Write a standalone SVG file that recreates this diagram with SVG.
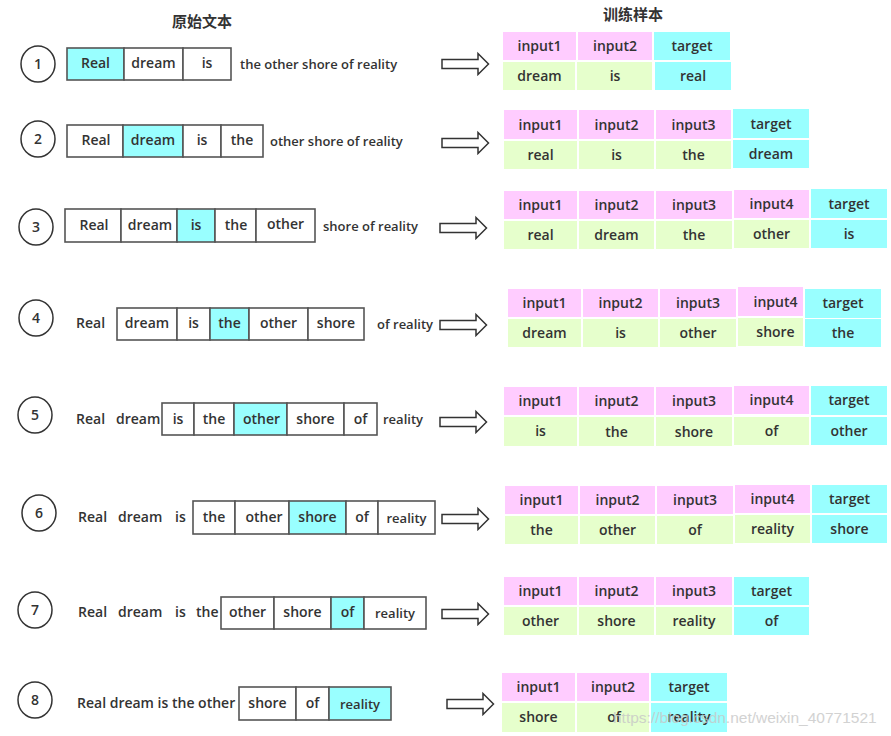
<svg xmlns="http://www.w3.org/2000/svg" xmlns:xlink="http://www.w3.org/1999/xlink" width="891" height="736" viewBox="0 0 891 736">
<style>
text{font-family:"Open Sans","Noto Sans","Noto Sans CJK SC",sans-serif;font-weight:600;fill:#333;font-size:14px}
.t{text-anchor:middle}
.s{font-size:13px}
.title{font-family:"Noto Sans CJK SC","Noto Sans CJK JP",sans-serif;font-weight:700;font-size:15px;text-anchor:middle}
.b{fill:#fff;stroke:#555;stroke-width:1.6}
.bc{fill:#99ffff;stroke:#555;stroke-width:1.6}
.num{fill:#fff;stroke:#333;stroke-width:1.5}
.p{fill:#ffccff}
.g{fill:#e6ffcc}
.c{fill:#99ffff}
.arr{fill:#fff;stroke:#333;stroke-width:1.5}
.wm{font-family:"Liberation Sans",sans-serif;font-weight:400;font-size:15.5px;fill:#c8c8c8;opacity:0.8}
</style>
<defs>
<path id="arrow" class="arr" d="M0,-4.5 H36 V-10.5 L46.5,0 L36,10.5 V4.5 H0 Z"/>
</defs>
<text class="title" x="202" y="27">原始文本</text>
<text class="title" x="633" y="20">训练样本</text>

<g id="connectors">
<use xlink:href="#arrow" x="442" y="64"/>
<use xlink:href="#arrow" x="442" y="143"/>
<use xlink:href="#arrow" x="440" y="228"/>
<use xlink:href="#arrow" x="440" y="325"/>
<use xlink:href="#arrow" x="440" y="422"/>
<use xlink:href="#arrow" x="442" y="519"/>
<use xlink:href="#arrow" x="442" y="614"/>
<use xlink:href="#arrow" x="447" y="704"/>
</g>

<!-- Row 1 -->
<g id="row1">
<ellipse class="num" cx="38" cy="64" rx="17" ry="18"/><text class="t" x="38" y="69">1</text>
<rect class="bc" x="67" y="48" width="57" height="32"/><text class="t" x="95.5" y="68">Real</text>
<rect class="b" x="124" y="48" width="59" height="32"/><text class="t" x="153.5" y="68">dream</text>
<rect class="b" x="183" y="48" width="48" height="32"/><text class="t" x="207" y="68">is</text>
<text class="s" x="240" y="69">the other shore of reality</text>
</g>
<g id="sample1">
<rect class="p" x="503" y="32" width="73" height="28"/><text class="t" x="539.5" y="51">input1</text>
<rect class="p" x="578" y="32" width="74" height="28"/><text class="t" x="615" y="51">input2</text>
<rect class="c" x="654" y="32" width="76" height="28"/><text class="t" x="692" y="51">target</text>
<rect class="g" x="503" y="62" width="72" height="28"/><text class="t" x="539.5" y="81">dream</text>
<rect class="g" x="577" y="62" width="75" height="28"/><text class="t" x="615" y="81">is</text>
<rect class="c" x="655" y="62" width="76" height="28"/><text class="t" x="693" y="81">real</text>
</g>

<!-- Row 2 -->
<g id="row2">
<ellipse class="num" cx="38" cy="139" rx="17" ry="18"/><text class="t" x="38" y="144">2</text>
<rect class="b" x="67" y="125" width="56" height="32"/><text class="t" x="96" y="145">Real</text>
<rect class="bc" x="123" y="125" width="60" height="32"/><text class="t" x="153" y="145">dream</text>
<rect class="b" x="183" y="125" width="38" height="32"/><text class="t" x="202" y="145">is</text>
<rect class="b" x="221" y="125" width="42" height="32"/><text class="t" x="242" y="145">the</text>
<text class="s" x="270" y="146">other shore of reality</text>
</g>
<g id="sample2">
<rect class="p" x="504" y="110" width="73" height="29"/><text class="t" x="540.5" y="130">input1</text>
<rect class="p" x="579" y="110" width="75" height="29"/><text class="t" x="616.5" y="130">input2</text>
<rect class="p" x="656" y="110" width="75" height="29"/><text class="t" x="693.5" y="130">input3</text>
<rect class="c" x="733" y="109" width="76" height="29"/><text class="t" x="771" y="129">target</text>
<rect class="g" x="504" y="141" width="73" height="28"/><text class="t" x="540.5" y="160">real</text>
<rect class="g" x="579" y="141" width="75" height="28"/><text class="t" x="616.5" y="160">is</text>
<rect class="g" x="656" y="141" width="75" height="28"/><text class="t" x="693.5" y="160">the</text>
<rect class="c" x="733" y="140" width="76" height="28"/><text class="t" x="771" y="159">dream</text>
</g>

<!-- Row 3 -->
<g id="row3">
<ellipse class="num" cx="36" cy="227" rx="17" ry="18"/><text class="t" x="36" y="232">3</text>
<rect class="b" x="65" y="209" width="56" height="33"/><text class="t" x="94" y="230">Real</text>
<rect class="b" x="121" y="209" width="56" height="33"/><text class="t" x="150" y="230">dream</text>
<rect class="bc" x="177" y="209" width="38" height="33"/><text class="t" x="196" y="230">is</text>
<rect class="b" x="215" y="209" width="41" height="33"/><text class="t" x="236" y="230">the</text>
<rect class="b" x="256" y="209" width="59" height="33"/><text class="t" x="285.5" y="229">other</text>
<text class="s" x="323" y="231">shore of reality</text>
</g>
<g id="sample3">
<rect class="p" x="504" y="191" width="73" height="28"/><text class="t" x="540.5" y="210">input1</text>
<rect class="p" x="579" y="191" width="75" height="28"/><text class="t" x="616.5" y="210">input2</text>
<rect class="p" x="656" y="191" width="76" height="28"/><text class="t" x="694" y="210">input3</text>
<rect class="p" x="734" y="190" width="75" height="28"/><text class="t" x="771.5" y="209">input4</text>
<rect class="c" x="811" y="189" width="76" height="29"/><text class="t" x="849" y="209">target</text>
<rect class="g" x="504" y="221" width="73" height="28"/><text class="t" x="540.5" y="240">real</text>
<rect class="g" x="579" y="221" width="75" height="28"/><text class="t" x="616.5" y="240">dream</text>
<rect class="g" x="656" y="221" width="76" height="28"/><text class="t" x="694" y="240">the</text>
<rect class="g" x="734" y="220" width="75" height="28"/><text class="t" x="771.5" y="239">other</text>
<rect class="c" x="811" y="220" width="76" height="28"/><text class="t" x="849" y="239">is</text>
</g>

<!-- Row 4 -->
<g id="row4">
<ellipse class="num" cx="36" cy="318" rx="17" ry="18"/><text class="t" x="36" y="323">4</text>
<text x="76" y="328">Real</text>
<rect class="b" x="117" y="308" width="60" height="32"/><text class="t" x="147" y="328">dream</text>
<rect class="b" x="177" y="308" width="33" height="32"/><text class="t" x="193.5" y="328">is</text>
<rect class="bc" x="210" y="308" width="39" height="32"/><text class="t" x="229.5" y="328">the</text>
<rect class="b" x="249" y="308" width="59" height="32"/><text class="t" x="278.5" y="328">other</text>
<rect class="b" x="308" y="308" width="56" height="32"/><text class="t" x="336" y="328">shore</text>
<text class="s" x="377" y="329">of reality</text>
</g>
<g id="sample4">
<rect class="p" x="508" y="289" width="73" height="28"/><text class="t" x="544.5" y="308">input1</text>
<rect class="p" x="583" y="289" width="75" height="28"/><text class="t" x="620.5" y="308">input2</text>
<rect class="p" x="660" y="289" width="76" height="28"/><text class="t" x="698" y="308">input3</text>
<rect class="p" x="738" y="287" width="65" height="29"/><text class="t" x="775.5" y="307">input4</text>
<rect class="c" x="805" y="289" width="76" height="29"/><text class="t" x="843" y="308">target</text>
<rect class="g" x="508" y="319" width="73" height="28"/><text class="t" x="544.5" y="338">dream</text>
<rect class="g" x="583" y="319" width="75" height="28"/><text class="t" x="620.5" y="338">is</text>
<rect class="g" x="660" y="319" width="76" height="28"/><text class="t" x="698" y="338">other</text>
<rect class="g" x="738" y="318" width="65" height="28"/><text class="t" x="775.5" y="337">shore</text>
<rect class="c" x="805" y="319" width="76" height="28"/><text class="t" x="843" y="338">the</text>
</g>

<!-- Row 5 -->
<g id="row5">
<ellipse class="num" cx="35" cy="415" rx="17" ry="18"/><text class="t" x="35" y="420">5</text>
<text x="76" y="424">Real</text>
<text x="116" y="424">dream</text>
<rect class="b" x="162" y="403" width="32" height="32"/><text class="t" x="178" y="424">is</text>
<rect class="b" x="194" y="403" width="40" height="32"/><text class="t" x="214" y="424">the</text>
<rect class="bc" x="234" y="403" width="53" height="32"/><text class="t" x="261.5" y="424">other</text>
<rect class="b" x="287" y="403" width="57" height="32"/><text class="t" x="315.5" y="424">shore</text>
<rect class="b" x="344" y="403" width="33" height="32"/><text class="t" x="360.5" y="424">of</text>
<text class="s" x="383" y="424">reality</text>
</g>
<g id="sample5">
<rect class="p" x="504" y="387" width="73" height="28"/><text class="t" x="540.5" y="406">input1</text>
<rect class="p" x="579" y="387" width="75" height="28"/><text class="t" x="616.5" y="406">input2</text>
<rect class="p" x="656" y="387" width="76" height="28"/><text class="t" x="694" y="406">input3</text>
<rect class="p" x="734" y="386" width="75" height="28"/><text class="t" x="771.5" y="405">input4</text>
<rect class="c" x="811" y="386" width="76" height="29"/><text class="t" x="849" y="405">target</text>
<rect class="g" x="504" y="417" width="73" height="29"/><text class="t" x="540.5" y="436">is</text>
<rect class="g" x="579" y="417" width="75" height="29"/><text class="t" x="616.5" y="437">the</text>
<rect class="g" x="656" y="417" width="76" height="29"/><text class="t" x="694" y="437">shore</text>
<rect class="g" x="734" y="417" width="75" height="28"/><text class="t" x="771.5" y="436">of</text>
<rect class="c" x="811" y="417" width="76" height="28"/><text class="t" x="849" y="436">other</text>
</g>

<!-- Row 6 -->
<g id="row6">
<ellipse class="num" cx="39" cy="513" rx="17" ry="18"/><text class="t" x="39" y="518">6</text>
<text x="78" y="522">Real</text>
<text x="118" y="522">dream</text>
<text x="175" y="522">is</text>
<rect class="b" x="193" y="501" width="42" height="33"/><text class="t" x="214" y="522">the</text>
<rect class="b" x="235" y="501" width="54" height="33"/><text class="t" x="264" y="522">other</text>
<rect class="bc" x="289" y="501" width="57" height="33"/><text class="t" x="317.5" y="522">shore</text>
<rect class="b" x="346" y="501" width="32" height="33"/><text class="t" x="362" y="522">of</text>
<rect class="b" x="378" y="501" width="57" height="33"/><text class="t s" x="406.5" y="523">reality</text>
</g>
<g id="sample6">
<rect class="p" x="505" y="486" width="73" height="28"/><text class="t" x="541.5" y="505">input1</text>
<rect class="p" x="580" y="486" width="75" height="28"/><text class="t" x="617.5" y="505">input2</text>
<rect class="p" x="657" y="486" width="76" height="28"/><text class="t" x="695" y="505">input3</text>
<rect class="p" x="735" y="485" width="75" height="28"/><text class="t" x="772.5" y="504">input4</text>
<rect class="c" x="812" y="485" width="75" height="28"/><text class="t" x="849.5" y="504">target</text>
<rect class="g" x="505" y="516" width="73" height="28"/><text class="t" x="541.5" y="535">the</text>
<rect class="g" x="580" y="516" width="75" height="28"/><text class="t" x="617.5" y="535">other</text>
<rect class="g" x="657" y="516" width="76" height="28"/><text class="t" x="695" y="535">of</text>
<rect class="g" x="735" y="515" width="75" height="28"/><text class="t" x="772.5" y="534">reality</text>
<rect class="c" x="812" y="515" width="75" height="28"/><text class="t" x="849.5" y="534">shore</text>
</g>

<!-- Row 7 -->
<g id="row7">
<ellipse class="num" cx="35" cy="610" rx="17" ry="18"/><text class="t" x="35" y="615">7</text>
<text x="78" y="617">Real</text>
<text x="118" y="617">dream</text>
<text x="175" y="617">is</text>
<text x="196" y="617">the</text>
<rect class="b" x="221" y="597" width="53" height="32"/><text class="t" x="247.5" y="617">other</text>
<rect class="b" x="274" y="597" width="57" height="32"/><text class="t" x="302.5" y="617">shore</text>
<rect class="bc" x="331" y="597" width="33" height="32"/><text class="t" x="347.5" y="617">of</text>
<rect class="b" x="364" y="597" width="62" height="32"/><text class="t s" x="395" y="618">reality</text>
</g>
<g id="sample7">
<rect class="p" x="504" y="577" width="73" height="28"/><text class="t" x="540.5" y="596">input1</text>
<rect class="p" x="579" y="577" width="75" height="28"/><text class="t" x="616.5" y="596">input2</text>
<rect class="p" x="656" y="577" width="76" height="28"/><text class="t" x="694" y="596">input3</text>
<rect class="c" x="734" y="577" width="75" height="28"/><text class="t" x="771.5" y="596">target</text>
<rect class="g" x="504" y="607" width="73" height="28"/><text class="t" x="540.5" y="626">other</text>
<rect class="g" x="579" y="607" width="75" height="28"/><text class="t" x="616.5" y="626">shore</text>
<rect class="g" x="656" y="607" width="76" height="28"/><text class="t" x="694" y="626">reality</text>
<rect class="c" x="734" y="607" width="75" height="28"/><text class="t" x="771.5" y="626">of</text>
</g>

<!-- Row 8 -->
<g id="row8">
<ellipse class="num" cx="35" cy="700" rx="17" ry="18"/><text class="t" x="35" y="705">8</text>
<text x="77" y="708">Real dream is the other</text>
<rect class="b" x="239" y="687" width="57" height="33"/><text class="t" x="267.5" y="708">shore</text>
<rect class="b" x="296" y="687" width="33" height="33"/><text class="t" x="312.5" y="708">of</text>
<rect class="bc" x="329" y="687" width="62" height="33"/><text class="t s" x="360" y="709">reality</text>
</g>
<g id="sample8">
<rect class="p" x="502" y="673" width="73" height="28"/><text class="t" x="538.5" y="692">input1</text>
<rect class="p" x="577" y="673" width="72" height="28"/><text class="t" x="613" y="692">input2</text>
<rect class="c" x="651" y="673" width="76" height="28"/><text class="t" x="689" y="692">target</text>
<rect class="g" x="502" y="703" width="73" height="29"/><text class="t" x="538.5" y="722">shore</text>
<rect class="g" x="577" y="703" width="72" height="29"/><text class="t" x="614" y="722">of</text>
<rect class="c" x="651" y="703" width="76" height="29"/><text class="t" x="689" y="722">reality</text>
</g>
<text class="wm" x="613" y="723">https://blog.csdn.net/weixin_40771521</text>
</svg>
